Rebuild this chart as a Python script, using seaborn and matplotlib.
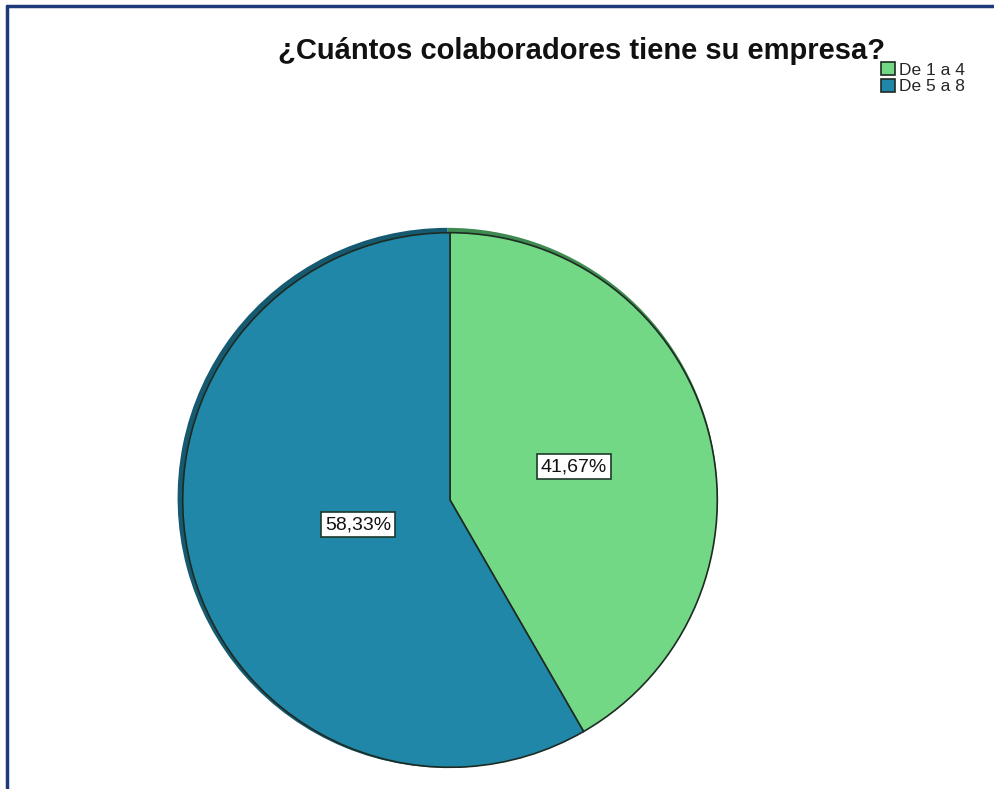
import matplotlib
matplotlib.use('Agg')
import matplotlib.pyplot as plt
import seaborn as sns
from matplotlib.lines import Line2D
from matplotlib.patches import Patch

# data
categorias = ['De 1 a 4', 'De 5 a 8']
porcentajes = [41.67, 58.33]
colores = ['#72d886', '#2187a8']
sombras = ['#3f8a50', '#155a70']
titulo = '¿Cuántos colaboradores tiene su empresa?'

sns.set_style('white')
plt.rcParams['font.family'] = ['Liberation Sans', 'DejaVu Sans']

fig = plt.figure(figsize=(9.94, 7.89), dpi=100)
ax = fig.add_axes([180 / 994, 19 / 789, 540 / 994, 540 / 789])

# dark rim on the upper left side (shadow look of the original)
ax.pie(porcentajes, colors=sombras, startangle=90, counterclock=False,
       center=(-0.009, 0.008), radius=1.0,
       wedgeprops=dict(linewidth=0))

wedges, texts, autotexts = ax.pie(
    porcentajes, colors=colores, startangle=90, counterclock=False,
    autopct=lambda p: f'{p:.2f}%'.replace('.', ','), pctdistance=0.48,
    radius=0.99,
    wedgeprops=dict(edgecolor='#1d2b22', linewidth=1.2),
    textprops=dict(fontsize=14, color='#111111'))

# the blue label sits closer to the centre in the original
x, y = autotexts[1].get_position()
autotexts[1].set_position((x * 0.74, y * 0.74))

for t in autotexts:
    t.set_bbox(dict(boxstyle='square,pad=0.2', facecolor='white',
                    edgecolor='#1d3a2a', linewidth=1.2))

ax.set_xlim(-1, 1)
ax.set_ylim(-1, 1)
ax.set_aspect('equal')
ax.axis('off')

fig.text(581 / 994, 1 - 51 / 789, titulo, ha='center', va='center',
         fontsize=21, fontweight='bold', color='#111111')

handles = [Patch(facecolor=c, edgecolor='#1d2b22', linewidth=1.2) for c in colores]
fig.legend(handles, categorias, loc='upper left',
           bbox_to_anchor=(881 / 994, 1 - 62 / 789), frameon=False,
           fontsize=12.5, handlelength=0.8, handleheight=0.8,
           handletextpad=0.25, labelspacing=0.05, borderaxespad=0,
           borderpad=0)

# frame line on top and left, as in the cropped screenshot
fig.add_artist(Line2D([7 / 994, 1], [1 - 6 / 789, 1 - 6 / 789],
                      color='#1f3a78', linewidth=2.5))
fig.add_artist(Line2D([7 / 994, 7 / 994], [0, 1 - 6 / 789],
                      color='#1f3a78', linewidth=2.5))

fig.savefig('out.png', dpi=100, facecolor='white')
